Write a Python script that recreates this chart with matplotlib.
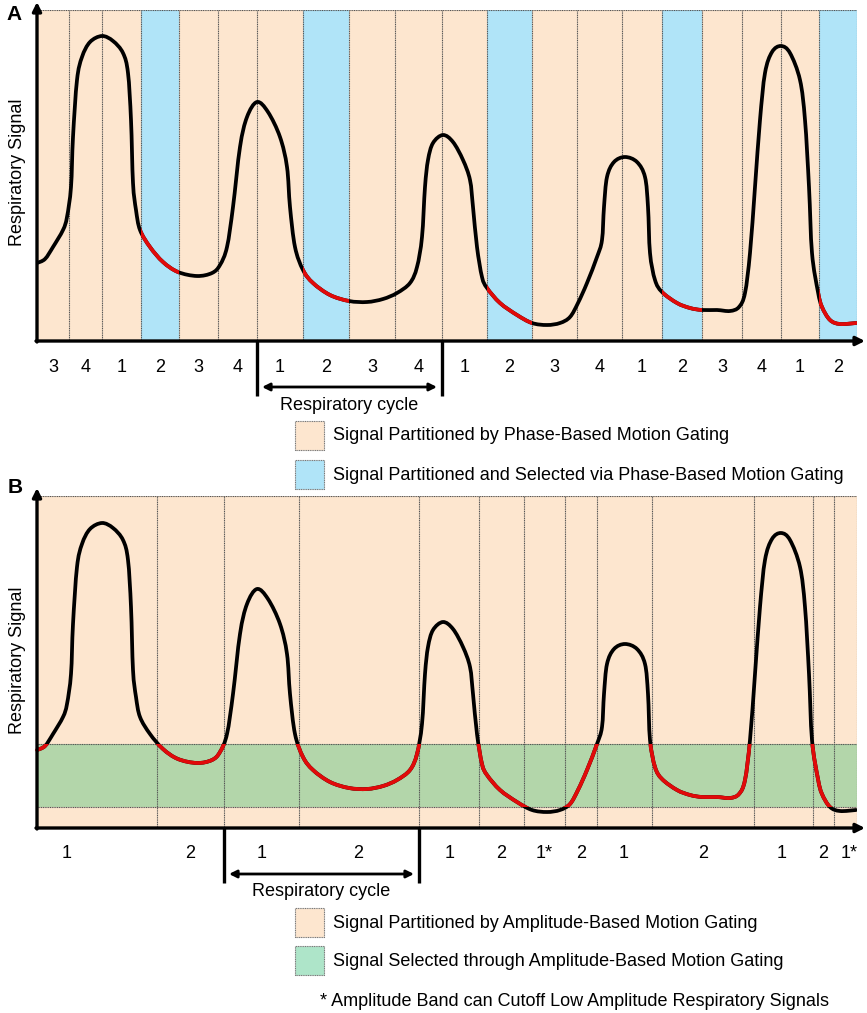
import matplotlib
matplotlib.use('Agg')
import matplotlib.pyplot as plt
from matplotlib.patches import Rectangle, PathPatch
from matplotlib.path import Path

plt.rcParams['font.family'] = ['Liberation Sans', 'DejaVu Sans']

# ---------------- data ----------------
time = [0, 8, 16, 26, 30, 34, 36, 40, 45, 53, 65, 76, 86, 91, 94, 96, 99, 103, 113, 126,
        141, 160, 175, 183, 190, 196, 203, 210, 220, 231, 243, 250, 253, 258, 266, 276, 293, 312, 330, 346,
        360, 373, 380, 385, 388, 391, 396, 406, 416, 426, 433, 436, 440, 445, 450, 463, 480, 495, 510, 523,
        533, 541, 550, 560, 565, 567, 570, 577, 588, 600, 608, 611, 613, 618, 625, 640, 653, 665, 680, 693,
        702, 708, 713, 718, 723, 728, 735, 744, 753, 763, 768, 772, 775, 781, 785, 793, 803, 819]
signal = [78, 82, 94, 111, 124, 154, 204, 261, 284, 299, 305, 300, 288, 268, 221, 158, 131, 111, 94, 79,
          69, 65, 68, 76, 94, 134, 194, 224, 239, 229, 204, 174, 134, 94, 71, 58, 46, 40, 39, 42,
          48, 58, 74, 104, 154, 181, 198, 206, 199, 181, 161, 134, 94, 64, 53, 38, 26, 18, 16, 18,
          24, 38, 58, 84, 101, 134, 164, 179, 184, 179, 164, 134, 88, 61, 49, 38, 33, 31, 31, 30,
          34, 48, 88, 154, 221, 268, 289, 295, 288, 261, 221, 154, 88, 49, 34, 21, 17, 18]

phase_bounds = [0, 32, 65, 104, 142, 181, 220, 266, 312, 358, 405, 450, 495, 540, 585, 625,
                665, 705, 744, 782, 820]
phase_labels = ['3', '4', '1', '2', '3', '4', '1', '2', '3', '4', '1', '2', '3', '4', '1', '2',
                '3', '4', '1', '2']
selected_phase = '2'
phase_cycle = (220, 405)

amp_bounds = [0, 120, 187, 262, 382, 442, 487, 528, 560, 615, 717, 776, 797, 820]
amp_labels = ['1', '2', '1', '2', '1', '2', '1*', '2', '1', '2', '1', '2', '1*']
amp_label_t = [30, 153, 225, 321, 413, 464, 507, 544, 587, 666, 745, 786, 812]
band_low, band_high = 21, 84
amp_cycle = (187, 382)

legend_a = ['Signal Partitioned by Phase-Based Motion Gating',
            'Signal Partitioned and Selected via Phase-Based Motion Gating']
legend_b = ['Signal Partitioned by Amplitude-Based Motion Gating',
            'Signal Selected through Amplitude-Based Motion Gating']
footnote_b = '* Amplitude Band can Cutoff Low Amplitude Respiratory Signals'

# ---------------- style ----------------
PEACH = '#FDE6CF'
BLUE = '#B0E4F8'
GREEN = '#B3D6AA'
MINT = '#AEE5C9'
RED = '#E10A0A'
GRID = '#555555'
FS = 13
LW = 2.7

W, H = 867, 1013
fig = plt.figure(figsize=(W / 100, H / 100), dpi=100)
T_END = 820


def smooth_path(xs, ys):
    """Cubic Bezier path through the read points (Catmull-Rom control handles)."""
    pts = list(zip(xs, ys))
    n = len(pts)
    verts = [pts[0]]
    codes = [Path.MOVETO]
    for i in range(n - 1):
        p0 = pts[i - 1] if i > 0 else pts[i]
        p1 = pts[i]
        p2 = pts[i + 1]
        p3 = pts[i + 2] if i + 2 < n else pts[i + 1]
        c1 = (p1[0] + (p2[0] - p0[0]) / 6.0, p1[1] + (p2[1] - p0[1]) / 6.0)
        c2 = (p2[0] - (p3[0] - p1[0]) / 6.0, p2[1] - (p3[1] - p1[1]) / 6.0)
        verts += [c1, c2, p2]
        codes += [Path.CURVE4] * 3
    return Path(verts, codes)


CURVE = smooth_path(time, signal)


def draw_curve(ax, color, z, clip=None):
    pp = PathPatch(CURVE, facecolor='none', edgecolor=color, lw=LW, zorder=z,
                   joinstyle='round', capstyle='round')
    ax.add_patch(pp)
    if clip is not None:
        pp.set_clip_path(clip)
    return pp


def base_axes(top_px, axis_px):
    ax = fig.add_axes([37 / W, (H - axis_px) / H, 820 / W, (axis_px - top_px) / H])
    ymax = axis_px - top_px
    ax.set_xlim(0, T_END)
    ax.set_ylim(0, ymax)
    ax.axis('off')
    ax.add_patch(Rectangle((0, 0), T_END, ymax, facecolor=PEACH, edgecolor='none', zorder=0))
    ax.plot([0, T_END, T_END], [ymax, ymax, 0], color=GRID, lw=0.8, ls=(0, (1, 0.6)), zorder=1)
    return ax, ymax


def axis_arrows(ax, ymax):
    ax.annotate('', xy=(828, 0), xytext=(-1, 0), annotation_clip=False,
                arrowprops=dict(arrowstyle='-|>', lw=2.4, color='black', mutation_scale=13,
                                shrinkA=0, shrinkB=0), zorder=6)
    ax.annotate('', xy=(0, ymax + 8), xytext=(0, -1), annotation_clip=False,
                arrowprops=dict(arrowstyle='-|>', lw=2.4, color='black', mutation_scale=13,
                                shrinkA=0, shrinkB=0), zorder=6)


def cycle_bracket(ax, t0, t1):
    for t in (t0, t1):
        ax.plot([t, t], [0, -55], color='black', lw=2.4, clip_on=False, zorder=6,
                solid_capstyle='butt')
    ax.annotate('', xy=(t1 - 5, -46), xytext=(t0 + 5, -46), annotation_clip=False,
                arrowprops=dict(arrowstyle='<|-|>', lw=2.0, color='black', mutation_scale=11,
                                shrinkA=0, shrinkB=0))


def legend_rows(ax, labels, colors, y0s):
    for lab, col, y0 in zip(labels, colors, y0s):
        ax.add_patch(Rectangle((258, y0 - 29), 29, 29, facecolor=col, edgecolor='#777777',
                               lw=0.8, ls=(0, (1, 0.6)), clip_on=False))
        ax.text(296, y0 - 15, lab, fontsize=FS, ha='left', va='center')


# ================= Panel A =================
axA, ymA = base_axes(10, 341)
for i, lab in enumerate(phase_labels):
    t0, t1 = phase_bounds[i], phase_bounds[i + 1]
    if lab == selected_phase:
        axA.add_patch(Rectangle((t0, 0), t1 - t0, ymA, facecolor=BLUE, edgecolor='none', zorder=0.5))
    axA.text((t0 + t1) / 2, -26, lab, fontsize=FS, ha='center', va='center')
for t in phase_bounds[1:-1]:
    axA.plot([t, t], [0, ymA], color=GRID, lw=0.8, ls=(0, (1, 0.6)), zorder=1)

draw_curve(axA, 'black', 3)
for i, lab in enumerate(phase_labels):
    if lab == selected_phase:
        t0, t1 = phase_bounds[i], phase_bounds[i + 1]
        clip = Rectangle((t0, -20), t1 - t0, ymA + 40, transform=axA.transData)
        draw_curve(axA, RED, 4, clip)

axis_arrows(axA, ymA)
cycle_bracket(axA, *phase_cycle)
axA.text(sum(phase_cycle) / 2, -64, 'Respiratory cycle', fontsize=FS, ha='center', va='center')
legend_rows(axA, legend_a, [PEACH, BLUE], [-80, -119])
axA.text(-19, ymA / 2 + 3, 'Respiratory Signal', rotation=90, fontsize=FS, ha='center', va='center')
axA.text(-23, ymA - 5, 'A', fontsize=15, fontweight='bold', ha='center', va='center')

# ================= Panel B =================
axB, ymB = base_axes(496, 828)
axB.add_patch(Rectangle((0, band_low), T_END, band_high - band_low, facecolor=GREEN,
                        edgecolor='none', zorder=0.5))
for yb in (band_low, band_high):
    axB.plot([0, T_END], [yb, yb], color=GRID, lw=0.8, ls=(0, (1, 0.6)), zorder=1)
for t in amp_bounds[1:-1]:
    axB.plot([t, t], [0, ymB], color=GRID, lw=0.8, ls=(0, (1, 0.6)), zorder=1)
for lab, t in zip(amp_labels, amp_label_t):
    axB.text(t, -25, lab, fontsize=FS, ha='center', va='center')

draw_curve(axB, 'black', 3)
clipB = Rectangle((-10, band_low), T_END + 20, band_high - band_low, transform=axB.transData)
draw_curve(axB, RED, 4, clipB)

axis_arrows(axB, ymB)
cycle_bracket(axB, *amp_cycle)
axB.text(sum(amp_cycle) / 2, -63, 'Respiratory cycle', fontsize=FS, ha='center', va='center')
legend_rows(axB, legend_b, [PEACH, MINT], [-80, -118])
axB.text(283, -173, footnote_b, fontsize=FS, ha='left', va='center')
axB.text(-19, ymB / 2 + 2, 'Respiratory Signal', rotation=90, fontsize=FS, ha='center', va='center')
axB.text(-22, ymB + 9, 'B', fontsize=15, fontweight='bold', ha='center', va='center')

fig.savefig('out.png', dpi=100)
